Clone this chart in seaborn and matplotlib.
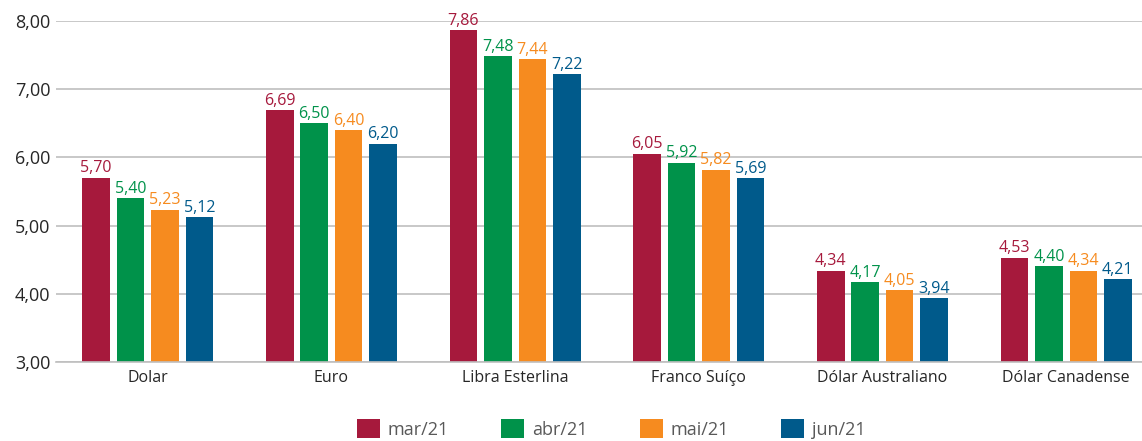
import matplotlib
matplotlib.use("Agg")
import matplotlib.pyplot as plt
import seaborn as sns
import pandas as pd

moedas = ["Dolar", "Euro", "Libra Esterlina", "Franco Suíço", "Dólar Australiano", "Dólar Canadense"]
meses = ["mar/21", "abr/21", "mai/21", "jun/21"]
mar21 = [5.70, 6.69, 7.86, 6.05, 4.34, 4.53]
abr21 = [5.40, 6.50, 7.48, 5.92, 4.17, 4.40]
mai21 = [5.23, 6.40, 7.44, 5.82, 4.05, 4.34]
jun21 = [5.12, 6.20, 7.22, 5.69, 3.94, 4.21]
cores = ["#A6193C", "#00924A", "#F68B1F", "#005A8B"]

series = [mar21, abr21, mai21, jun21]
df = pd.DataFrame([
    {"moeda": m, "mes": mes, "valor": v}
    for mes, vals in zip(meses, series)
    for m, v in zip(moedas, vals)
])

sns.set_theme(style="white")
plt.rcParams["font.family"] = ["Open Sans", "DejaVu Sans"]

fig = plt.figure(figsize=(11.42, 4.41), dpi=100)
ax = fig.add_axes([0.049, 0.179, 0.965, 0.774])

sns.barplot(data=df, x="moeda", y="valor", hue="mes", order=moedas, hue_order=meses,
            palette=cores, width=0.75, gap=0.2, ax=ax, errorbar=None, saturation=1,
            linewidth=0)

for cont, cor in zip(ax.containers, cores):
    ax.bar_label(cont, labels=[f"{v:.2f}".replace(".", ",") for v in cont.datavalues],
                 color=cor, fontsize=11.5, padding=1)

ax.set_ylim(3, 8)
ax.set_xlim(-0.5, 5.5)
ax.set_yticks([3, 4, 5, 6, 7, 8])
ax.set_yticklabels([f"{t:.2f}".replace(".", ",") for t in [3, 4, 5, 6, 7, 8]],
                   fontsize=13, color="#262626")
ax.tick_params(axis="x", labelsize=11.5, colors="#262626", length=0, pad=6)
ax.tick_params(axis="y", length=0, pad=4)
ax.yaxis.grid(True, color="#BFBFBF", linewidth=1.2)
ax.set_axisbelow(True)
for s in ["top", "right", "left"]:
    ax.spines[s].set_visible(False)
ax.spines["bottom"].set_color("#BFBFBF")
ax.spines["bottom"].set_linewidth(1.2)
ax.set_xlabel("")
ax.set_ylabel("")

leg = ax.legend(loc="center", ncol=4, frameon=False, fontsize=13, handlelength=1.3,
                handleheight=1.3, columnspacing=2.9, handletextpad=0.4, labelcolor="#595959")
leg.set_bbox_to_anchor((0.535, 0.028), transform=fig.transFigure)

fig.savefig("out.png", dpi=100)
